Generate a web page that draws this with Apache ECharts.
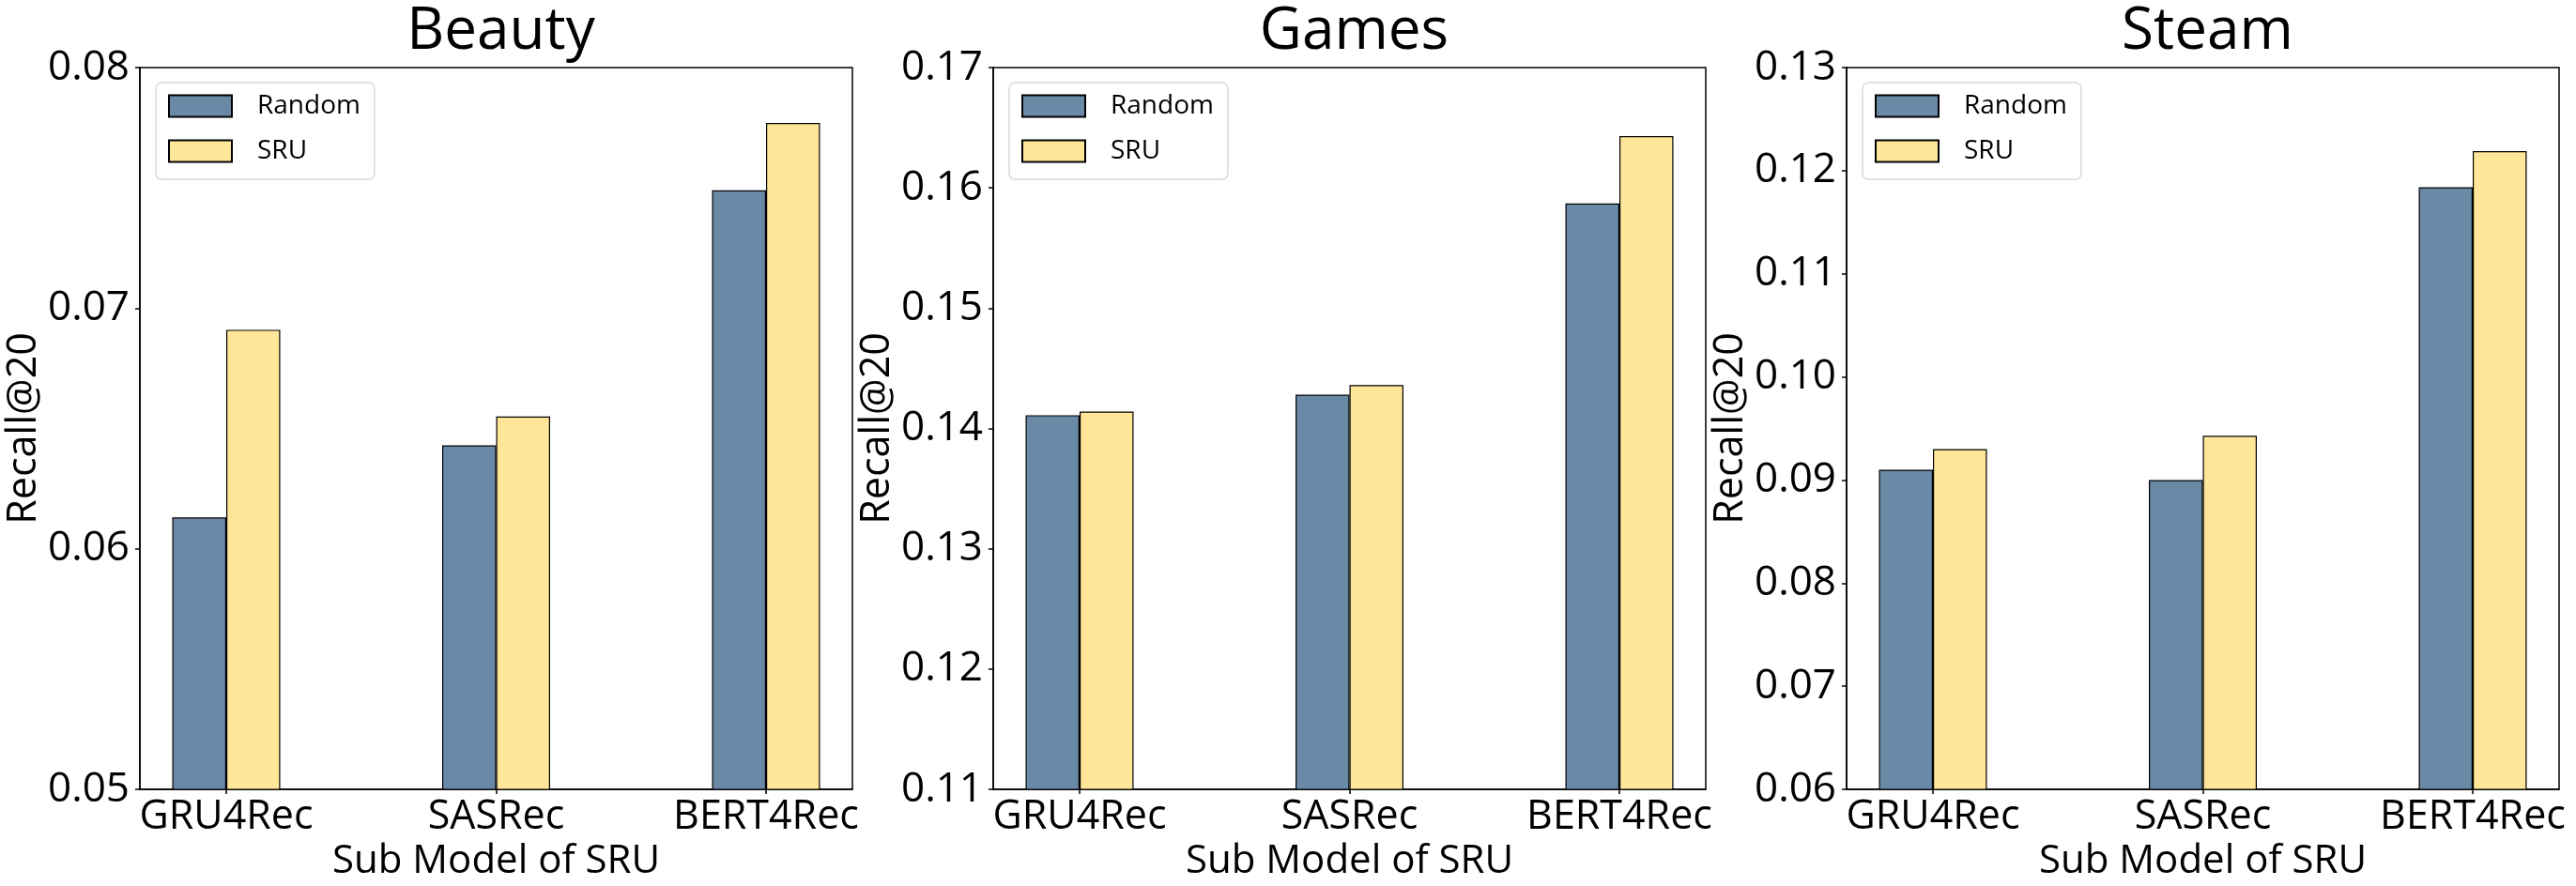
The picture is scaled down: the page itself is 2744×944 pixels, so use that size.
<!DOCTYPE html>
<html>
<head>
<meta charset="utf-8">
<script src="https://cdn.jsdelivr.net/npm/echarts@6/dist/echarts.min.js"></script>
<style>
html,body{margin:0;padding:0;background:#ffffff;}
#c{width:2744px;height:944px;}
</style>
</head>
<body>
<div id="c"></div>
<script>
// ---- data ----
const categories = ['GRU4Rec', 'SASRec', 'BERT4Rec'];
const panelTitles = ['Beauty', 'Games', 'Steam'];
const seriesNames = ['Random', 'SRU'];
const beautyRandom = [0.0613, 0.0643, 0.0749];
const beautySRU    = [0.0691, 0.0655, 0.0777];
const gamesRandom  = [0.1411, 0.1428, 0.1587];
const gamesSRU     = [0.1414, 0.1436, 0.1643];
const steamRandom  = [0.0910, 0.0900, 0.1184];
const steamSRU     = [0.0930, 0.0943, 0.1219];
const yMins = [0.05, 0.11, 0.06];
const yMaxs = [0.08, 0.17, 0.13];
const yInterval = 0.01;
const xLabel = 'Sub Model of SRU';
const yLabel = 'Recall@20';

// ---- layout / style ----
const FONT = 'Open Sans';
const colors = ['#6a89a7', '#ffe699'];
const gridLefts = [149, 1058, 1967];
const gridTop = 72, gridW = 759, gridH = 769;
const panelData = [[beautyRandom, beautySRU], [gamesRandom, gamesSRU], [steamRandom, steamSRU]];

const grids = [], xAxes = [], yAxes = [], series = [], titles = [], legends = [];
panelTitles.forEach((t, p) => {
  grids.push({left: gridLefts[p], top: gridTop, width: gridW, height: gridH,
    show: true, borderColor: '#000', borderWidth: 1.5, backgroundColor: 'transparent', containLabel: false});
  xAxes.push({
    type: 'value', gridIndex: p, min: -0.32, max: 2.32,
    name: xLabel, nameLocation: 'middle', nameGap: 55,
    nameTextStyle: {fontFamily: FONT, fontSize: 42, color: '#000'},
    axisLine: {show: true, onZero: false, lineStyle: {color: '#000', width: 1.5}},
    axisTick: {show: true, inside: false, length: 5, customValues: [0, 1, 2], lineStyle: {color: '#000', width: 1.5}},
    axisLabel: {show: true, customValues: [0, 1, 2], margin: 8, fontFamily: FONT, fontSize: 43, color: '#000',
      formatter: v => categories[Math.round(v)] || ''},
    splitLine: {show: false}
  });
  yAxes.push({
    type: 'value', gridIndex: p, min: yMins[p], max: yMaxs[p], interval: yInterval,
    name: yLabel, nameLocation: 'middle', nameGap: 100, nameRotate: 90,
    nameTextStyle: {fontFamily: FONT, fontSize: 43, color: '#000'},
    axisLine: {show: true, onZero: false, lineStyle: {color: '#000', width: 1.5}},
    axisTick: {show: true, inside: false, length: 5, lineStyle: {color: '#000', width: 1.5}},
    axisLabel: {show: true, margin: 11, fontFamily: FONT, fontSize: 44, color: '#000',
      formatter: v => v.toFixed(2)},
    splitLine: {show: false}
  });
  panelData[p].forEach((vals, s) => {
    series.push({
      type: 'bar', name: seriesNames[s], xAxisIndex: p, yAxisIndex: p,
      data: vals.map((v, i) => [i, v]),
      barWidth: '20%', barGap: '0%',
      itemStyle: {color: colors[s], borderColor: '#000', borderWidth: 1.2},
      emphasis: {disabled: true},
      clip: true
    });
  });
  titles.push({text: t, left: gridLefts[p] + gridW / 2, top: -2, textAlign: 'center',
    textStyle: {fontFamily: FONT, fontSize: 62, fontWeight: 'normal', color: '#000'}});
  legends.push({
    data: seriesNames, orient: 'vertical', left: gridLefts[p] + 17, top: 88,
    icon: 'rect',
    backgroundColor: '#fff', borderColor: '#d9d9d9', borderWidth: 1.5, borderRadius: 6,
    padding: [11, 15, 16, 13], itemWidth: 67, itemHeight: 23, itemGap: 20,
    textStyle: {fontFamily: FONT, fontSize: 28, lineHeight: 23, color: '#000', padding: [0, 0, 0, 22]},
    selectedMode: false
  });
});

const chart = echarts.init(document.getElementById('c'), null, {renderer: 'canvas'});
chart.setOption({
  animation: false,
  backgroundColor: '#fff',
  title: titles,
  legend: legends,
  grid: grids,
  xAxis: xAxes,
  yAxis: yAxes,
  series: series
});
</script>
</body>
</html>
